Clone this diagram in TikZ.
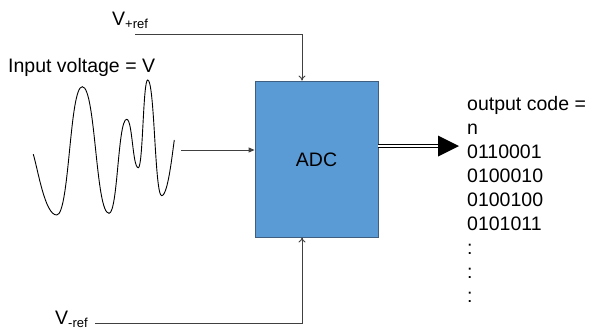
\documentclass[tikz,border=0pt]{standalone}
\usepackage{fontspec}
\setmainfont{Liberation Sans}
\usetikzlibrary{arrows.meta}
\definecolor{adcfill}{HTML}{5B9BD5}
\definecolor{adcedge}{HTML}{3F5F80}
\definecolor{wire}{HTML}{404040}
\newcommand\lowsub[1]{\raisebox{-3pt}{\fontsize{13}{13}\selectfont #1}}
\begin{document}
\begin{tikzpicture}[x=1pt,y=-1pt,
  lbl/.style={font=\fontsize{19.5}{24}\selectfont, inner sep=0pt, anchor=base west},
  wirestyle/.style={draw=wire, line width=0.9pt},
  openarrow/.style={wirestyle, -{To[length=5pt,width=7pt]}},
  fillarrow/.style={wirestyle, -{Triangle[length=6pt,width=5pt]}},
  adcbox/.style={draw=adcedge, fill=adcfill, line width=0.8pt, minimum width=123pt, minimum height=156pt, inner sep=0pt}]
\useasboundingbox (0,0) rectangle (594,330);

% ADC block
\node[adcbox] (adc) at (316.5,159) {};
\node[lbl, anchor=center] (adctext) at (316.5,160) {ADC};

% reference inputs
\node[lbl] (vpref) at (112,25) {V\lowsub{+ref}};
\node[lbl] (vmref) at (55,324.5) {V\lowsub{-ref}};
\coordinate (vpstart) at (135,34);
\coordinate (vpcorner) at (302,34);
\coordinate (vmstart) at (95,323);
\coordinate (vmcorner) at (302,323);
\draw[openarrow] (vpstart) -- (vpcorner) -- (vpcorner |- adc.north);
\draw[openarrow] (vmstart) -- (vmcorner) -- (vmcorner |- adc.south);

% input voltage
\node[lbl] (inlabel) at (8,72) {Input voltage = V};
\draw[black, line width=0.9pt]
  (33.3,154.3) .. controls (38,170) and (45,215) .. (56.7,215)
  .. controls (69.5,215) and (69.5,86.7) .. (82.3,86.7)
  .. controls (95.65,86.7) and (95.65,213.3) .. (109,213.3)
  .. controls (117.85,213.3) and (117.85,119.3) .. (126.7,119.3)
  .. controls (132.5,119.3) and (132.5,167.7) .. (138.3,167.7)
  .. controls (143,167.7) and (143,80) .. (147.7,80)
  .. controls (154.7,80) and (154.7,195.7) .. (161.7,195.7)
  .. controls (168,195.7) and (172.5,152) .. (174.3,140);
\coordinate (instart) at (181,150);
\draw[fillarrow] (instart) -- (instart -| adc.west);

% output
\coordinate (outstart) at (378,146);
\coordinate (headbase) at (438,146);
\coordinate (headtip) at (459,146);
\draw[black, double=white, double distance=2.2pt, line width=1.1pt] (outstart) -- ([xshift=1pt]headbase);
\fill[black] ([yshift=-10.5pt]headbase) -- (headtip) -- ([yshift=10.5pt]headbase) -- cycle;

\foreach \t [count=\i from 0] in {output code =, n, 0110001, 0100010, 0100100, 0101011, :, :, :} {
  \node[lbl] (out\i) at (467,110+24*\i) {\t};
}
\end{tikzpicture}
\end{document}
